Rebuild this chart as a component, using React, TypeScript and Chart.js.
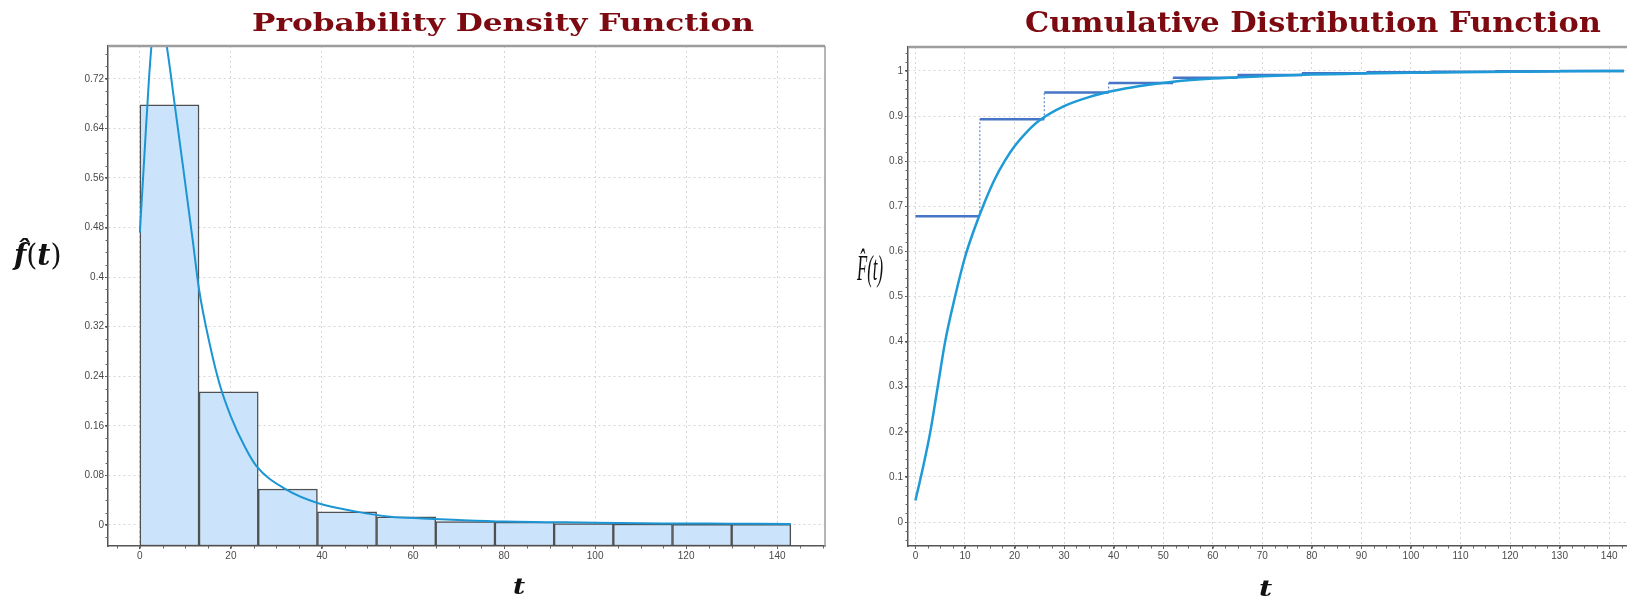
import React, { useEffect, useLayoutEffect, useRef, useState } from 'react';
import { Chart, registerables } from 'chart.js';

Chart.register(...registerables);

// ---------------- data ----------------
const binStarts = [0, 13, 26, 39, 52, 65, 78, 91, 104, 117, 130];
const binWidth = 13;
const pdfBarValues = [0.678, 0.215, 0.058, 0.021, 0.013, 0.0055, 0.0045, 0.002, 0.0015, 0.001, 0.001];

const pdfCurveT = [0, 1, 2, 3, 3.7, 4.5, 5.9, 7.7, 9.5, 11.6, 13, 15.4, 17.6, 20, 23, 25.6, 32.2, 39.2, 47.6, 55, 62, 70, 80, 90, 100, 115, 130, 143];
const pdfCurveValues = [0.472, 0.597, 0.72, 0.81, 0.84, 0.825, 0.773, 0.676, 0.577, 0.46, 0.38, 0.29, 0.225, 0.175, 0.127, 0.095, 0.057, 0.035, 0.0215, 0.0134, 0.0105, 0.008, 0.0055, 0.0045, 0.0035, 0.0025, 0.002, 0.0015];

const cdfStepValues = [0.678, 0.893, 0.952, 0.973, 0.985, 0.991, 0.995, 0.997, 0.998, 0.999, 1.0];

const cdfCurveT = [0, 1.5, 3, 4.5, 6, 8, 10, 12, 14, 16, 18, 20, 22.5, 25, 30, 35, 40, 45, 52, 60, 70, 80, 90, 100, 110, 120, 130, 143];
const cdfCurveValues = [0.048, 0.12, 0.2, 0.3, 0.4, 0.5, 0.587, 0.653, 0.71, 0.76, 0.8, 0.833, 0.865, 0.89, 0.922, 0.942, 0.956, 0.966, 0.976, 0.983, 0.988, 0.992, 0.994, 0.996, 0.997, 0.998, 0.999, 1.0];

const pdfXTicks = [0, 20, 40, 60, 80, 100, 120, 140];
const pdfYTicks = [0, 0.08, 0.16, 0.24, 0.32, 0.4, 0.48, 0.56, 0.64, 0.72];
const cdfXTicks = [0, 10, 20, 30, 40, 50, 60, 70, 80, 90, 100, 110, 120, 130, 140];
const cdfYTicks = [0, 0.1, 0.2, 0.3, 0.4, 0.5, 0.6, 0.7, 0.8, 0.9, 1];

const pdfXRange = [-7, 150.5];
const pdfYRange = [-0.034, 0.773];
const cdfXRange = [-1.5, 143.6];
const cdfYRange = [-0.053, 1.053];

const pdfTitle = 'Probability Density Function';
const cdfTitle = 'Cumulative Distribution Function';

// ---------------- helpers ----------------
const fmt = (v: any) => String(Number(Number(v).toFixed(4)));

function decorPlugin(cfg: { xMinor: number; yMinor: number; rightBorder: boolean }) {
  return {
    id: 'decor',
    afterDraw(chart: any) {
      const { ctx, chartArea: a, scales } = chart;
      const x = scales.x;
      const y = scales.y;
      ctx.save();
      ctx.strokeStyle = '#9d9d9d';
      ctx.lineWidth = 2.5;
      ctx.beginPath();
      ctx.moveTo(a.left, a.top);
      ctx.lineTo(a.right, a.top);
      ctx.stroke();
      if (cfg.rightBorder) {
        ctx.lineWidth = 1.5;
        ctx.beginPath();
        ctx.moveTo(a.right, a.top);
        ctx.lineTo(a.right, a.bottom);
        ctx.stroke();
      }
      ctx.strokeStyle = '#666';
      ctx.lineWidth = 1;
      const nx0 = Math.ceil(x.min / cfg.xMinor);
      const nx1 = Math.floor(x.max / cfg.xMinor);
      for (let n = nx0; n <= nx1; n++) {
        const px = Math.round(x.getPixelForValue(n * cfg.xMinor)) + 0.5;
        ctx.beginPath();
        ctx.moveTo(px, a.bottom);
        ctx.lineTo(px, a.bottom + 2.5);
        ctx.stroke();
      }
      const ny0 = Math.ceil(y.min / cfg.yMinor);
      const ny1 = Math.floor(y.max / cfg.yMinor);
      for (let n = ny0; n <= ny1; n++) {
        const py = Math.round(y.getPixelForValue(n * cfg.yMinor)) + 0.5;
        ctx.beginPath();
        ctx.moveTo(a.left, py);
        ctx.lineTo(a.left - 2.5, py);
        ctx.stroke();
      }
      ctx.restore();
    },
  };
}

function axisCommon(opts: any) {
  return {
    type: 'linear',
    offset: false,
    min: opts.range[0],
    max: opts.range[1],
    afterBuildTicks: (s: any) => {
      s.ticks = opts.ticks.map((v: number) => ({ value: v }));
    },
    afterFit: opts.afterFit,
    ticks: {
      autoSkip: false,
      maxRotation: 0,
      padding: opts.padding,
      color: '#4a4a4a',
      font: { family: opts.font, size: 10 },
      callback: fmt,
    },
    grid: {
      offset: false,
      color: '#d6d6d6',
      lineWidth: 1,
      tickLength: 3,
      tickColor: '#555',
      tickWidth: 1,
    },
    border: { display: true, color: '#555', width: 1.5, dash: [2, 3] },
  };
}

function FitText(props: any) {
  const { left, top, width, anchor, style, children } = props;
  const ref = useRef<HTMLSpanElement>(null);
  const [k, setK] = useState(1);
  useLayoutEffect(() => {
    const el = ref.current;
    if (!el) return;
    const natural = el.offsetWidth;
    if (natural > 0) setK(width / natural);
  }, [width]);
  const x = anchor === 'center' ? left - width / 2 : left;
  return (
    <span
      ref={ref}
      style={{
        position: 'absolute',
        left: x,
        top,
        whiteSpace: 'nowrap',
        display: 'inline-block',
        lineHeight: 1,
        transform: `scaleX(${k})`,
        transformOrigin: '0 0',
        zIndex: 2,
        ...style,
      }}
    >
      {children}
    </span>
  );
}

function PdfChart() {
  const ref = useRef<HTMLCanvasElement>(null);
  useEffect(() => {
    if (!ref.current) return;
    const chart = new Chart(ref.current, {
      data: {
        datasets: [
          {
            type: 'line',
            data: pdfCurveT.map((t, i) => ({ x: t, y: pdfCurveValues[i] })),
            borderColor: '#1b95d3',
            borderWidth: 2,
            pointRadius: 0,
            cubicInterpolationMode: 'monotone',
            order: 1,
          } as any,
          {
            type: 'bar',
            data: binStarts.map((s, i) => ({ x: s + binWidth / 2, y: pdfBarValues[i] })),
            backgroundColor: '#cce4fb',
            borderColor: '#505050',
            borderWidth: 1.5,
            borderSkipped: false,
            base: pdfYRange[0],
            barPercentage: 1,
            categoryPercentage: 1,
            order: 2,
          } as any,
        ],
      },
      options: {
        animation: false,
        responsive: false,
        devicePixelRatio: 1,
        layout: { padding: { left: 0, top: 46, right: 15, bottom: 0 } },
        plugins: { legend: { display: false }, tooltip: { enabled: false } },
        scales: {
          x: axisCommon({
            range: pdfXRange,
            ticks: pdfXTicks,
            padding: 1,
            font: "'Liberation Sans', Arial, sans-serif",
            afterFit: (s: any) => {
              s.height = 54;
            },
          }),
          y: axisCommon({
            range: pdfYRange,
            ticks: pdfYTicks,
            padding: 1,
            font: "'Liberation Sans', Arial, sans-serif",
            afterFit: (s: any) => {
              s.width = 108;
            },
          }),
        },
      } as any,
      plugins: [decorPlugin({ xMinor: 5, yMinor: 0.02, rightBorder: true })],
    });
    return () => chart.destroy();
  }, []);
  return <canvas ref={ref} width={840} height={600} style={{ position: 'absolute', left: 0, top: 0 }} />;
}

function CdfChart() {
  const ref = useRef<HTMLCanvasElement>(null);
  useEffect(() => {
    if (!ref.current) return;
    const stepPoints: { x: number; y: number }[] = [];
    binStarts.forEach((s, i) => {
      stepPoints.push({ x: s, y: cdfStepValues[i] });
      stepPoints.push({ x: s + binWidth, y: cdfStepValues[i] });
    });
    const isVertical = (c: any) => c.p0.parsed.x === c.p1.parsed.x;
    const chart = new Chart(ref.current, {
      type: 'line',
      data: {
        datasets: [
          {
            data: cdfCurveT.map((t, i) => ({ x: t, y: cdfCurveValues[i] })),
            borderColor: '#1e9ad6',
            borderWidth: 2.5,
            pointRadius: 0,
            cubicInterpolationMode: 'monotone',
            order: 1,
          },
          {
            data: stepPoints,
            borderColor: '#4674c6',
            borderWidth: 2.5,
            pointRadius: 0,
            tension: 0,
            order: 2,
            segment: {
              borderDash: (c: any) => (isVertical(c) ? [2, 2] : undefined),
              borderWidth: (c: any) => (isVertical(c) ? 1 : undefined),
            },
          },
        ],
      } as any,
      options: {
        animation: false,
        responsive: false,
        devicePixelRatio: 1,
        layout: { padding: { left: 0, top: 47, right: 0, bottom: 0 } },
        plugins: { legend: { display: false }, tooltip: { enabled: false } },
        scales: {
          x: axisCommon({
            range: cdfXRange,
            ticks: cdfXTicks,
            padding: 1,
            font: "'Liberation Sans Narrow', 'Liberation Sans', Arial, sans-serif",
            afterFit: (s: any) => {
              s.height = 54;
            },
          }),
          y: axisCommon({
            range: cdfYRange,
            ticks: cdfYTicks,
            padding: 2,
            font: "'Liberation Sans Narrow', 'Liberation Sans', Arial, sans-serif",
            afterFit: (s: any) => {
              s.width = 68;
            },
          }),
        },
      } as any,
      plugins: [decorPlugin({ xMinor: 2.5, yMinor: 0.02, rightBorder: false })],
    });
    return () => chart.destroy();
  }, []);
  return <canvas ref={ref} width={787} height={600} style={{ position: 'absolute', left: 840, top: 0 }} />;
}

export default function App() {
  const titleStyle = { fontFamily: "'DejaVu Serif', serif", fontWeight: 'bold', color: '#7d0a10' };
  const labelStyle = { fontFamily: "'DejaVu Serif', serif", color: '#111' };
  return (
    <div style={{ position: 'absolute', left: 0, top: 0, width: 1627, height: 600, background: '#fff', overflow: 'hidden' }}>
      <PdfChart />
      <CdfChart />
      <FitText left={252} top={10} width={502} style={{ ...titleStyle, fontSize: 25 }}>
        {pdfTitle}
      </FitText>
      <FitText left={1025} top={9} width={576} style={{ ...titleStyle, fontSize: 28 }}>
        {cdfTitle}
      </FitText>
      <FitText left={14} top={241} width={48} style={{ ...labelStyle, fontSize: 29 }}>
        <b><i>{'f\u0302'}</i></b>({<b><i>t</i></b>})
      </FitText>
      <FitText left={857} top={250} width={26} style={{ fontFamily: "'Liberation Serif', serif", fontStyle: 'italic', fontSize: 36, color: '#111' }}>
        {'F\u0302(t)'}
      </FitText>
      <FitText left={519} top={575} width={12} anchor="center" style={{ ...labelStyle, fontSize: 22, fontWeight: 'bold', fontStyle: 'italic' }}>
        t
      </FitText>
      <FitText left={1265.5} top={577} width={13} anchor="center" style={{ ...labelStyle, fontSize: 22, fontWeight: 'bold', fontStyle: 'italic' }}>
        t
      </FitText>
    </div>
  );
}
